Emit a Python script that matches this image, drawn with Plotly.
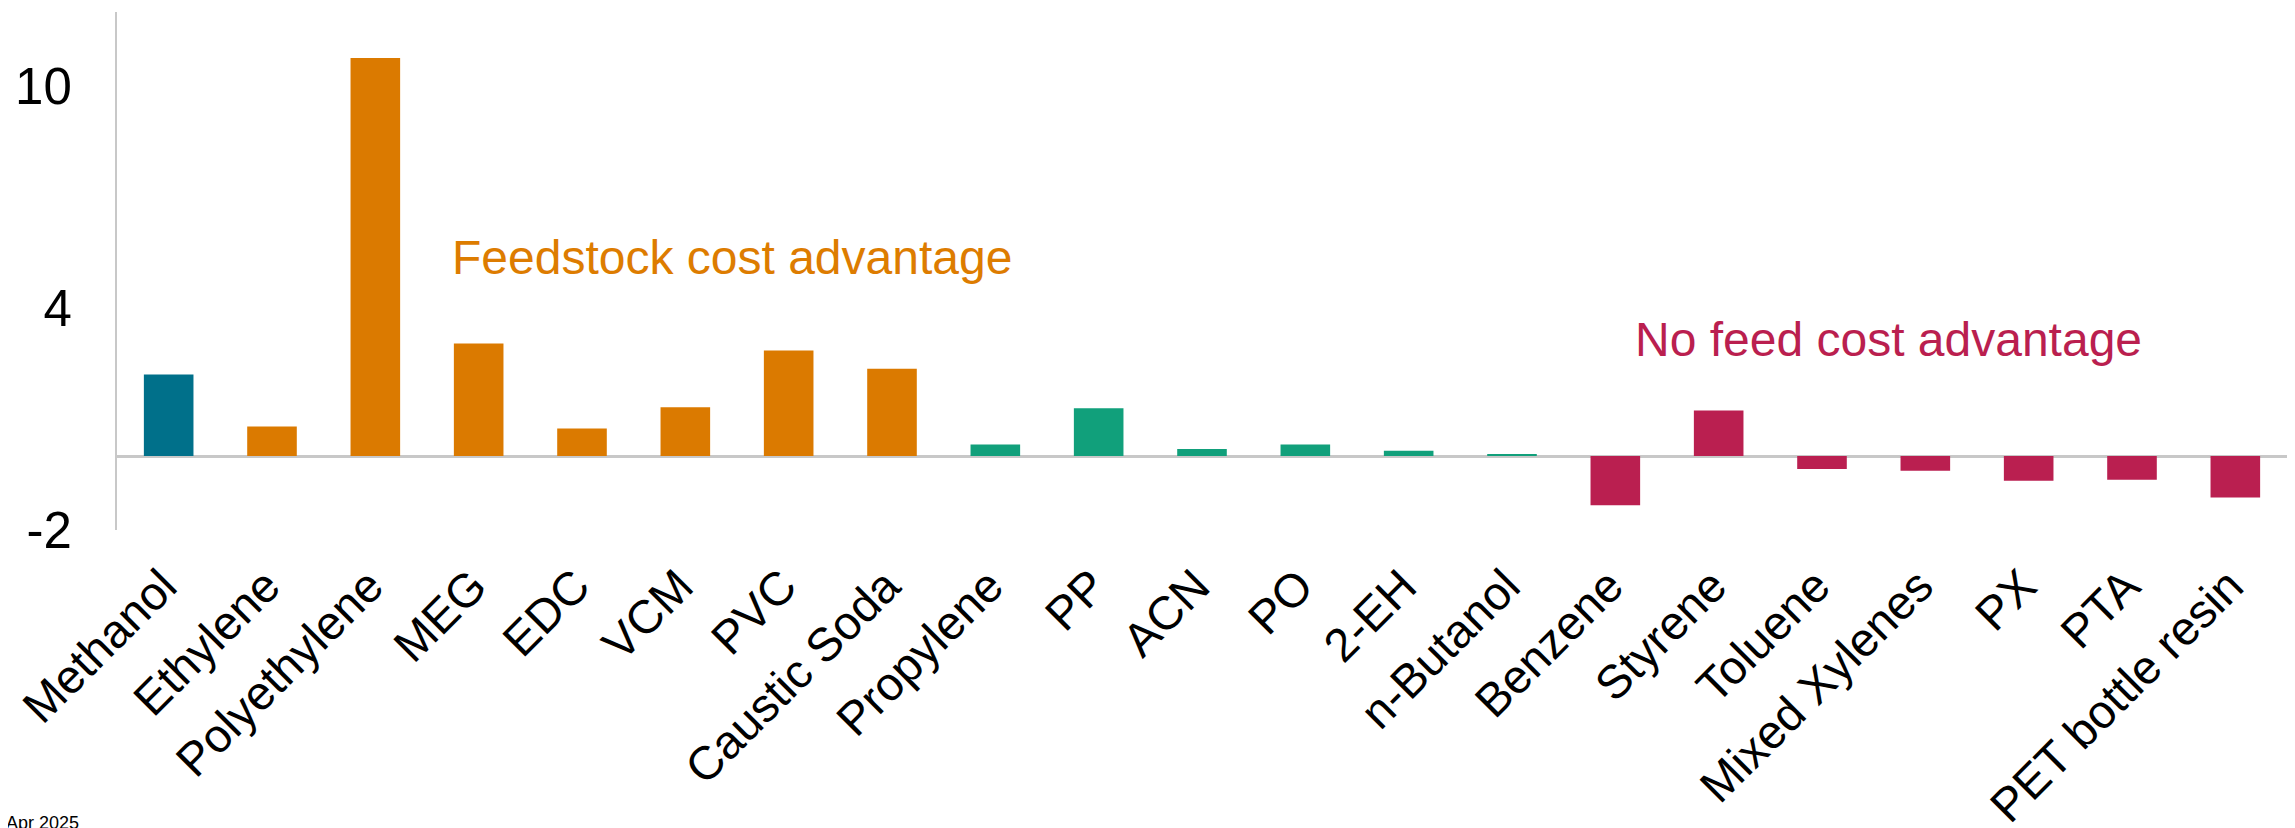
import plotly.graph_objects as go

categories = ["Methanol", "Ethylene", "Polyethylene", "MEG", "EDC", "VCM", "PVC",
              "Caustic Soda", "Propylene", "PP", "ACN", "PO", "2-EH", "n-Butanol",
              "Benzene", "Styrene", "Toluene", "Mixed Xylenes", "PX", "PTA",
              "PET bottle resin"]
values = [2.2, 0.8, 10.76, 3.04, 0.74, 1.32, 2.85, 2.36, 0.31, 1.29, 0.19, 0.31,
          0.14, 0.05, -1.33, 1.23, -0.35, -0.40, -0.67, -0.64, -1.12]
groups = ["methanol", "feed", "feed", "feed", "feed", "feed", "feed", "feed",
          "green", "green", "green", "green", "green", "green",
          "nofeed", "nofeed", "nofeed", "nofeed", "nofeed", "nofeed", "nofeed"]
group_colors = {"methanol": "#00708A", "feed": "#DB7A00",
                "green": "#11A07B", "nofeed": "#BA1F50"}
y_ticks = [-2, 4, 10]

FONT = "Liberation Sans, Arial, sans-serif"
OFF = 8  # default page body margin
W, H = 2295 - OFF, 828 - OFF
L, R, T, B = 117 - OFF, 8, 12 - OFF, 298

fig = go.Figure(go.Bar(
    x=categories, y=values, width=0.48,
    marker=dict(color=[group_colors[g] for g in groups], line=dict(width=0)),
    hoverinfo="x+y",
))

def px(xw):
    # window pixel -> paper fraction
    return (xw - OFF - L) / (W - L - R)

def py(yw):
    return 1 - (yw - OFF - T) / (H - T - B)

fig.update_layout(
    width=W, height=H,
    margin=dict(l=L, r=R, t=T, b=B, autoexpand=False),
    paper_bgcolor="white", plot_bgcolor="white",
    showlegend=False,
    font=dict(family=FONT, color="black"),
    bargap=0.52,
    xaxis=dict(
        tickangle=-45, tickfont=dict(size=47, family=FONT, color="black"),
        showgrid=False, showline=False, ticks="", zeroline=False,
        range=[-0.5, len(categories) - 0.5],
        ticklabelstandoff=18, ticklabelshift=-6, automargin=False,
    ),
    yaxis=dict(
        range=[-2, 12], tickvals=y_ticks, ticktext=[str(v) for v in y_ticks],
        tickfont=dict(size=51, family=FONT, color="black"),
        showgrid=False, showline=True, linecolor="#C8C8C8", linewidth=2,
        zeroline=True, zerolinecolor="#C8C8C8", zerolinewidth=2.5,
        ticks="", ticklabelstandoff=33, automargin=False,
    ),
    annotations=[
        dict(text="Feedstock cost advantage", xref="paper", yref="paper",
             x=px(450), y=py(257), xanchor="left", yanchor="middle",
             showarrow=False, font=dict(size=48, family=FONT, color="#DD7C00")),
        dict(text="No feed cost advantage", xref="paper", yref="paper",
             x=px(1633), y=py(339), xanchor="left", yanchor="middle",
             showarrow=False, font=dict(size=48, family=FONT, color="#BA1F4F")),
        dict(text="Apr 2025", xref="paper", yref="paper",
             x=px(81), y=py(811), xanchor="right", yanchor="top",
             showarrow=False, font=dict(size=18, family=FONT, color="black")),
    ],
)

fig.write_html("out.html")
